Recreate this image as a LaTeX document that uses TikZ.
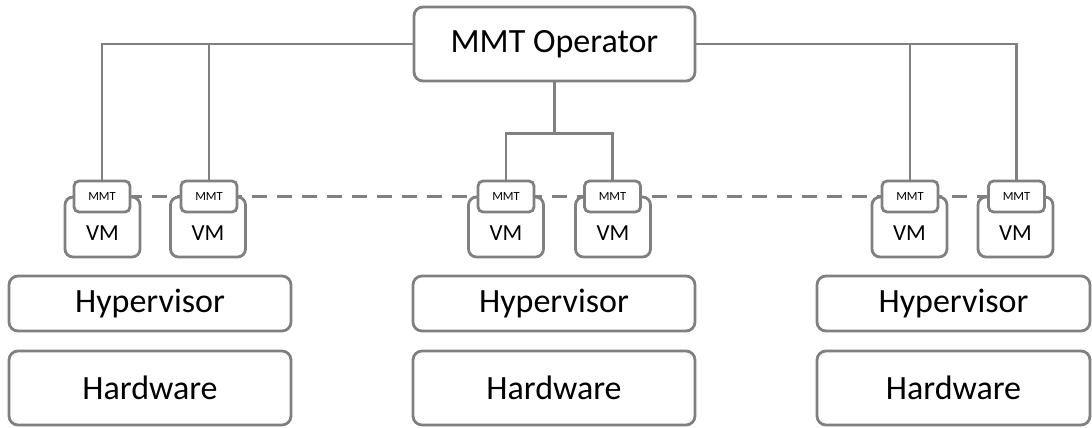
\documentclass[tikz,border=0pt]{standalone}
\usepackage{fontspec}
\setmainfont{Carlito}
\usetikzlibrary{calc, positioning, backgrounds}
\definecolor{linegray}{RGB}{128,128,128}
\tikzset{
    bigbox/.style={rectangle, draw=linegray, line width=2.8pt, fill=white, rounded corners=9pt, align=center, font=\fontsize{34}{40}\selectfont},
    vmbox/.style={rectangle, draw=linegray, line width=2.8pt, fill=white, rounded corners=8pt, minimum width=75pt, minimum height=60pt, inner sep=0pt, text height=27pt, text depth=0pt, font=\fontsize{23}{27}\selectfont},
    agent/.style={rectangle, draw=linegray, line width=2.8pt, fill=white, rounded corners=5pt, minimum width=56pt, minimum height=31pt, inner sep=0pt, font=\fontsize{12.5}{14}\selectfont},
    link/.style={draw=linegray, line width=2.8pt},
    sync/.style={draw=linegray, line width=2.8pt, dash pattern=on 15pt off 10pt}
}

\begin{document}
\begin{tikzpicture}[x=1pt, y=-1pt]
    \useasboundingbox (0,0) rectangle (1092,428);

    % Operator
    \node[bigbox, minimum width=281pt, minimum height=74pt] (op) at (554.5,44) {MMT Operator};

    % Hypervisors and hardware
    \node[bigbox, minimum width=282pt, minimum height=55pt] (hyp1) at (150,303.5) {Hypervisor};
    \node[bigbox, minimum width=282pt, minimum height=55pt] (hyp2) at (554,303.5) {Hypervisor};
    \node[bigbox, minimum width=273pt, minimum height=55pt] (hyp3) at (953.5,303.5) {Hypervisor};
    \node[bigbox, minimum width=282pt, minimum height=74pt] (hw1) at (150,388) {Hardware};
    \node[bigbox, minimum width=282pt, minimum height=74pt] (hw2) at (554,388) {Hardware};
    \node[bigbox, minimum width=273pt, minimum height=74pt] (hw3) at (953.5,388) {Hardware};

    % VMs with their MMT agents
    \node[vmbox] (vm1) at (102.5,227) {VM};
    \node[vmbox] (vm2) at (208,227) {VM};
    \node[vmbox] (vm3) at (506,227) {VM};
    \node[vmbox] (vm4) at (613,227) {VM};
    \node[vmbox] (vm5) at (909.5,227) {VM};
    \node[vmbox] (vm6) at (1015.5,227) {VM};

    \node[agent] (mmt1) at (102,196.5) {MMT};
    \node[agent] (mmt2) at (209,196.5) {MMT};
    \node[agent] (mmt3) at (506,196.5) {MMT};
    \node[agent] (mmt4) at (612.5,196.5) {MMT};
    \node[agent] (mmt5) at (910,196.5) {MMT};
    \node[agent] (mmt6) at (1016.5,196.5) {MMT};

    % Connections
    \begin{scope}[on background layer]
        \draw[sync] (mmt1.center) -- (mmt6.center);
    \end{scope}
    \coordinate (split) at ($(op.south)+(0,51)$);
    \draw[link] (op.west) -| (mmt1.north);
    \draw[link] (op.west) -| (mmt2.north);
    \draw[link] (op.east) -| (mmt5.north);
    \draw[link] (op.east) -| (mmt6.north);
    \draw[link] (op.south) -- (split) -| (mmt3.north);
    \draw[link] (split) -| (mmt4.north);
\end{tikzpicture}
\end{document}
